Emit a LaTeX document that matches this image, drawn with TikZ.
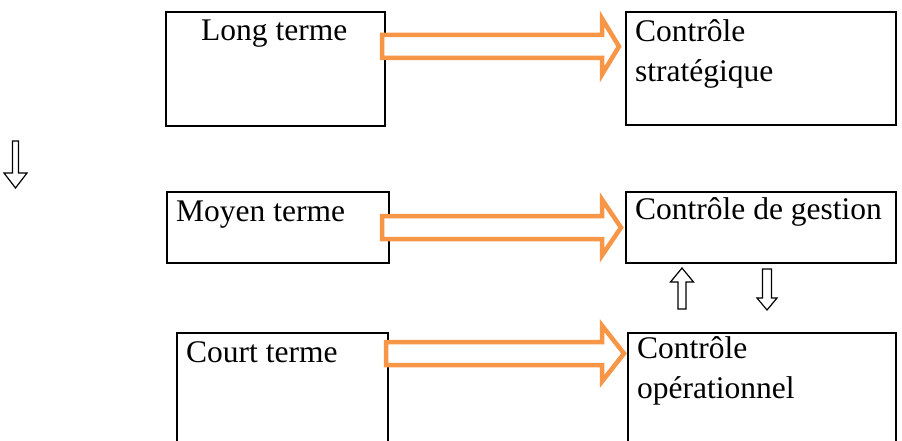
\documentclass[tikz,border=0pt]{standalone}
\usepackage{fontspec}
\setmainfont{Liberation Serif}
\definecolor{oarr}{HTML}{F79646}
\newcommand\orangearrow[3]{% start x, tip x, centre y
  \draw[blk] (#1,#3-11.5) -- (602,#3-11.5) -- (602,#3-28) -- (#2,#3) -- (602,#3+28) -- (602,#3+11.5) -- (#1,#3+11.5) -- cycle;}
\begin{document}
\begin{tikzpicture}[x=1pt,y=-1pt,
  box/.style={draw=black,line width=2pt,inner sep=0pt,anchor=north west},
  txt/.style={anchor=base west,inner sep=0pt,font=\fontsize{31.5}{40}\selectfont},
  blk/.style={draw=oarr,line width=4.5pt,fill=white,line join=miter},
  hol/.style={draw=black,line width=1.2pt,fill=white,line join=miter}]
\useasboundingbox (0,0) rectangle (902,441);
\clip (0,0) rectangle (902,441);
% boxes
\node[box,minimum width=219pt,minimum height=114pt] (b1) at (165,11) {};
\node[box,minimum width=270pt,minimum height=113pt] (b2) at (625,11) {};
\node[box,minimum width=222pt,minimum height=71pt] (b3) at (166,191) {};
\node[box,minimum width=270pt,minimum height=71pt] (b4) at (625,191) {};
\node[box,minimum width=211pt,minimum height=114pt] (b5) at (176,332) {};
\node[box,minimum width=268pt,minimum height=114pt] (b6) at (627,332) {};
% texts
\node[txt] (t1) at (201,41) {Long terme};
\node[txt] (t2a) at (635,42) {Contrôle};
\node[txt] (t2b) at (635,82) {stratégique};
\node[txt] (t3) at (176,221) {Moyen terme};
\node[txt] (t4) at (635,219) {Contrôle de gestion};
\node[txt] (t5) at (186,362) {Court terme};
\node[txt] (t6a) at (637,358) {Contrôle};
\node[txt] (t6b) at (637,398) {opérationnel};
% orange block arrows
\orangearrow{382}{619}{46.5}
\orangearrow{382}{621}{227.5}
\orangearrow{386}{624}{353.5}
% hollow black arrows
\draw[hol] (12.5,141) -- (18.5,141) -- (18.5,173) -- (27,173) -- (15.5,188) -- (4,173) -- (12.5,173) -- cycle;
\draw[hol] (678,309) -- (686,309) -- (686,282) -- (693.5,282) -- (682,268) -- (670.5,282) -- (678,282) -- cycle;
\draw[hol] (762.5,269) -- (771.5,269) -- (771.5,298) -- (777,298) -- (767,310) -- (757,298) -- (762.5,298) -- cycle;
\end{tikzpicture}
\end{document}
